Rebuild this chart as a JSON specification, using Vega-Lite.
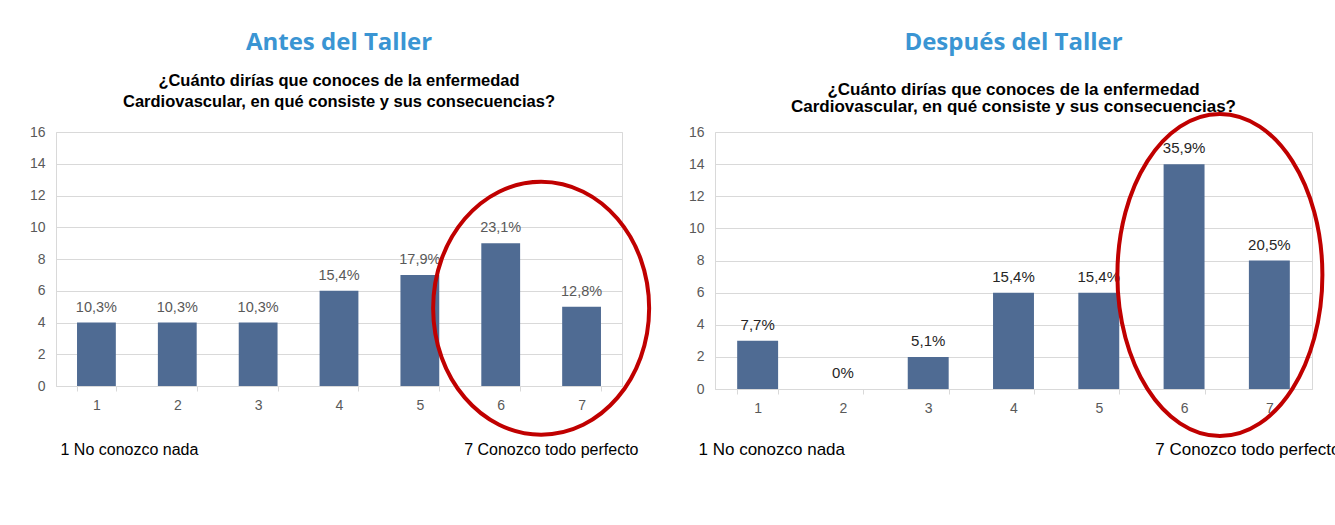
{
  "$schema": "https://vega.github.io/schema/vega-lite/v6.json",
  "background": "white",
  "padding": {"left": 28, "top": 30, "right": 0, "bottom": 0},
  "bounds": "flush",
  "spacing": 93,
  "datasets": {
    "antes": [
      {"nivel": "1", "n": 4, "pct": "10,3%"},
      {"nivel": "2", "n": 4, "pct": "10,3%"},
      {"nivel": "3", "n": 4, "pct": "10,3%"},
      {"nivel": "4", "n": 6, "pct": "15,4%"},
      {"nivel": "5", "n": 7, "pct": "17,9%"},
      {"nivel": "6", "n": 9, "pct": "23,1%"},
      {"nivel": "7", "n": 5, "pct": "12,8%"}
    ],
    "despues": [
      {"nivel": "1", "n": 3, "pct": "7,7%"},
      {"nivel": "2", "n": 0, "pct": "0%"},
      {"nivel": "3", "n": 2, "pct": "5,1%"},
      {"nivel": "4", "n": 6, "pct": "15,4%"},
      {"nivel": "5", "n": 6, "pct": "15,4%"},
      {"nivel": "6", "n": 14, "pct": "35,9%"},
      {"nivel": "7", "n": 8, "pct": "20,5%"}
    ]
  },
  "hconcat": [
    {
      "width": 566,
      "height": 254,
      "title": {
        "text": "Antes del Taller",
        "subtitle": ["¿Cuánto dirías que conoces de la enfermedad", "Cardiovascular, en qué consiste  y sus consecuencias?"],
        "frame": "group",
        "font": "Open Sans", "fontSize": 24, "fontWeight": "bold", "color": "#3a95d3",
        "subtitleFont": "Liberation Sans", "subtitleFontSize": 16.5, "subtitleFontWeight": "bold", "subtitleColor": "#000000",
        "subtitlePadding": 18, "subtitleLineHeight": 21, "offset": 15, "anchor": "middle"
      },
      "layer": [
        {
          "data": {"name": "antes"},
          "encoding": {
            "x": {"field": "nivel", "type": "ordinal", "scale": {"paddingInner": 0.52, "paddingOuter": 0.26},
              "axis": {"orient": "bottom", "labelAngle": 0, "labelColor": "#595959", "labelFont": "Liberation Sans", "labelFontSize": 14, "labelPadding": 7,
                "tickBand": "extent", "tickColor": "#d9d9d9", "tickSize": 5, "domainColor": "#d9d9d9", "grid": false,
                "title": "1 No conozco nada", "titleFont": "Liberation Sans", "titleFontSize": 16, "titleFontWeight": "normal", "titleColor": "#000000",
                "titleAlign": "left", "titleX": 4, "titleY": 55, "titleBaseline": "top"}},
            "y": {"field": "n", "type": "quantitative", "scale": {"domain": [0, 16]},
              "axis": {"values": [0, 2, 4, 6, 8, 10, 12, 14, 16], "labelOverlap": false, "labelColor": "#595959", "labelFont": "Liberation Sans", "labelFontSize": 14, "labelPadding": 11,
                "ticks": false, "domain": false, "gridColor": "#d9d9d9", "title": null}}
          },
          "layer": [
            {"mark": {"type": "bar", "color": "#4f6b93"}},
            {
              "mark": {"type": "text", "baseline": "bottom", "dy": -8, "font": "Liberation Sans", "fontSize": 14.5, "color": "#595959"},
              "encoding": {"text": {"field": "pct"}}
            }
          ]
        },
        {
          "data": {"values": [{}]},
          "mark": {"type": "point", "shape": "M-1,0 C-1,-0.647 -0.5523,-1.171 0,-1.171 C0.5523,-1.171 1,-0.647 1,0 C1,0.647 0.5523,1.171 0,1.171 C-0.5523,1.171 -1,0.647 -1,0 Z", "filled": false, "stroke": "#c00000", "strokeWidth": 4, "size": 46656, "opacity": 1},
          "encoding": {
            "x": {"datum": 6.5, "type": "quantitative", "scale": {"domain": [0.5, 7.5], "nice": false, "zero": false},
              "axis": {"orient": "bottom", "labels": false, "ticks": false, "domain": false, "grid": false,
                "title": "7 Conozco todo perfecto", "titleFont": "Liberation Sans", "titleFontSize": 16, "titleFontWeight": "normal", "titleColor": "#000000",
                "titleAlign": "right", "titleX": 582, "titleY": 55, "titleBaseline": "top"}},
            "y": {"datum": 4.9, "type": "quantitative", "scale": {"domain": [0, 16]},
              "axis": {"values": [0, 2, 4, 6, 8, 10, 12, 14, 16], "labelOverlap": false, "labelColor": "#595959", "labelFont": "Liberation Sans", "labelFontSize": 14, "labelPadding": 11,
                "ticks": false, "domain": false, "gridColor": "#d9d9d9", "title": null}}
          }
        }
      ],
      "resolve": {"scale": {"x": "independent"}, "axis": {"x": "independent"}}
    },
    {
      "width": 597,
      "height": 257,
      "title": {
        "text": "Después del Taller",
        "subtitle": ["¿Cuánto dirías que conoces de la enfermedad", "Cardiovascular,  en qué consiste  y sus consecuencias?"],
        "frame": "group",
        "font": "Open Sans", "fontSize": 24, "fontWeight": "bold", "color": "#3a95d3",
        "subtitleFont": "Liberation Sans", "subtitleFontSize": 17, "subtitleFontWeight": "bold", "subtitleColor": "#000000",
        "subtitlePadding": 27, "subtitleLineHeight": 17, "offset": -9, "anchor": "middle"
      },
      "layer": [
        {
          "data": {"name": "despues"},
          "encoding": {
            "x": {"field": "nivel", "type": "ordinal", "scale": {"paddingInner": 0.52, "paddingOuter": 0.26},
              "axis": {"orient": "bottom", "labelAngle": 0, "labelColor": "#595959", "labelFont": "Liberation Sans", "labelFontSize": 14, "labelPadding": 7,
                "tickBand": "extent", "tickColor": "#d9d9d9", "tickSize": 5, "domainColor": "#d9d9d9", "grid": false,
                "title": "1 No conozco nada", "titleFont": "Liberation Sans", "titleFontSize": 17, "titleFontWeight": "normal", "titleColor": "#000000",
                "titleAlign": "left", "titleX": -17, "titleY": 52, "titleBaseline": "top"}},
            "y": {"field": "n", "type": "quantitative", "scale": {"domain": [0, 16]},
              "axis": {"values": [0, 2, 4, 6, 8, 10, 12, 14, 16], "labelOverlap": false, "labelColor": "#595959", "labelFont": "Liberation Sans", "labelFontSize": 14, "labelPadding": 11,
                "ticks": false, "domain": false, "gridColor": "#d9d9d9", "title": null}}
          },
          "layer": [
            {"mark": {"type": "bar", "color": "#4f6b93"}},
            {
              "mark": {"type": "text", "baseline": "bottom", "dy": -8, "font": "Liberation Sans", "fontSize": 15, "color": "#262626"},
              "encoding": {"text": {"field": "pct"}}
            }
          ]
        },
        {
          "data": {"values": [{}]},
          "mark": {"type": "point", "shape": "M-1,0 C-1,-0.868 -0.5523,-1.571 0,-1.571 C0.5523,-1.571 1,-0.868 1,0 C1,0.868 0.5523,1.571 0,1.571 C-0.5523,1.571 -1,0.868 -1,0 Z", "filled": false, "stroke": "#c00000", "strokeWidth": 4, "size": 42025, "opacity": 1},
          "encoding": {
            "x": {"datum": 6.42, "type": "quantitative", "scale": {"domain": [0.5, 7.5], "nice": false, "zero": false},
              "axis": {"orient": "bottom", "labels": false, "ticks": false, "domain": false, "grid": false,
                "title": "7 Conozco todo perfecto", "titleFont": "Liberation Sans", "titleFontSize": 17, "titleFontWeight": "normal", "titleColor": "#000000",
                "titleAlign": "right", "titleX": 625, "titleY": 52, "titleBaseline": "top"}},
            "y": {"datum": 7.1, "type": "quantitative", "scale": {"domain": [0, 16]},
              "axis": {"values": [0, 2, 4, 6, 8, 10, 12, 14, 16], "labelOverlap": false, "labelColor": "#595959", "labelFont": "Liberation Sans", "labelFontSize": 14, "labelPadding": 11,
                "ticks": false, "domain": false, "gridColor": "#d9d9d9", "title": null}}
          }
        }
      ],
      "resolve": {"scale": {"x": "independent"}, "axis": {"x": "independent"}}
    }
  ],
  "config": {
    "view": {"stroke": "#d9d9d9", "strokeWidth": 1},
    "axis": {"gridColor": "#d9d9d9"}
  }
}
